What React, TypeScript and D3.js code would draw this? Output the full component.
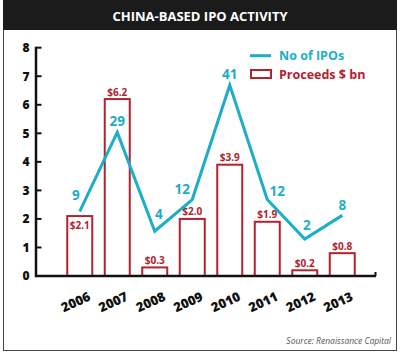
import React, { useEffect, useRef } from 'react';
import { select, scaleBand, scaleLinear, line } from 'd3';

const years = ['2006', '2007', '2008', '2009', '2010', '2011', '2012', '2013'];
const proceeds = [2.1, 6.2, 0.3, 2.0, 3.9, 1.9, 0.2, 0.8];
const proceedsLabels = ['$2.1', '$6.2', '$0.3', '$2.0', '$3.9', '$1.9', '$0.2', '$0.8'];
const ipoCounts = [9, 29, 4, 12, 41, 12, 2, 8];
const yTicks = [0, 1, 2, 3, 4, 5, 6, 7, 8];

const CYAN = '#1cadc9';
const RED = '#b3222f';
const FONT = '"Open Sans", "DejaVu Sans", sans-serif';

const App = () => {
    const svgRef = useRef<SVGSVGElement>(null);
    const width = 400;
    const height = 353;

    useEffect(() => {
        document.body.style.margin = '0';
        const svg = select(svgRef.current)
            .attr('width', width)
            .attr('height', height);

        svg.selectAll('*').remove();

        // frame + title band
        svg.append('rect')
            .attr('x', 3.5).attr('y', 0.5)
            .attr('width', 393).attr('height', 350)
            .attr('fill', '#fff').attr('stroke', '#444').attr('stroke-width', 1);
        svg.append('rect')
            .attr('x', 3).attr('y', 0)
            .attr('width', 394).attr('height', 30)
            .attr('fill', '#1b1b1b');
        svg.append('text')
            .attr('x', 200).attr('y', 16)
            .attr('dy', '0.35em')
            .attr('text-anchor', 'middle')
            .attr('fill', '#fff')
            .style('font-family', FONT)
            .style('font-weight', 700)
            .style('font-size', '13px')
            .text('CHINA-BASED IPO ACTIVITY');

        const xScale = scaleBand()
            .domain(years)
            .range([61, 361])
            .paddingInner(1 / 3)
            .paddingOuter(1 / 6);

        const yScale = scaleLinear().domain([0, 8]).range([276, 47.7]);
        const ipoScale = scaleLinear().domain([0, 41]).range([247, 85]);
        const cx = (y: string) => (xScale(y) as number) + xScale.bandwidth() / 2;

        const g = svg.append('g');

        // bars
        g.selectAll('rect.bar')
            .data(proceeds)
            .enter().append('rect')
                .attr('class', 'bar')
                .attr('x', (d, i) => xScale(years[i]) as number)
                .attr('y', d => yScale(d))
                .attr('width', xScale.bandwidth())
                .attr('height', d => yScale(0) - yScale(d))
                .attr('fill', '#fff')
                .attr('stroke', RED)
                .attr('stroke-width', 2);

        // bar labels (2006 sits inside its bar, under the line)
        const insideLabels = ['2006'];
        g.selectAll('text.bar-label')
            .data(proceeds)
            .enter().append('text')
                .attr('class', 'bar-label')
                .attr('x', (d, i) => cx(years[i]))
                .attr('y', (d, i) => insideLabels.includes(years[i]) ? yScale(d) + 9.5 : yScale(d) - 7)
                .attr('dy', '0.35em')
                .attr('text-anchor', 'middle')
                .attr('fill', RED)
                .style('font-family', FONT)
                .style('font-weight', 700)
                .style('font-size', '10px')
                .text((d, i) => proceedsLabels[i]);

        // axes
        g.append('line')
            .attr('x1', 36).attr('x2', 36)
            .attr('y1', yScale(8) - 1).attr('y2', yScale(0) + 1.2)
            .attr('stroke', '#111').attr('stroke-width', 2.5);
        g.append('line')
            .attr('x1', 36).attr('x2', 376)
            .attr('y1', yScale(0)).attr('y2', yScale(0))
            .attr('stroke', '#111').attr('stroke-width', 2.5);
        g.append('line')
            .attr('x1', 375.5).attr('x2', 375.5)
            .attr('y1', yScale(0) - 4).attr('y2', yScale(0))
            .attr('stroke', '#111').attr('stroke-width', 2);

        const ticks = g.selectAll('g.ytick')
            .data(yTicks)
            .enter().append('g')
                .attr('class', 'ytick')
                .attr('transform', d => `translate(0, ${yScale(d)})`);
        ticks.append('line')
            .attr('x1', 36).attr('x2', 41.5)
            .attr('stroke', '#111').attr('stroke-width', 2);
        ticks.append('text')
            .attr('x', 29.5)
            .attr('dy', '0.36em')
            .attr('text-anchor', 'end')
            .attr('fill', '#111')
            .style('font-family', FONT)
            .style('font-weight', 800)
            .style('font-size', '12px')
            .text(d => d);

        g.selectAll('text.xlabel')
            .data(years)
            .enter().append('text')
                .attr('class', 'xlabel')
                .attr('transform', d => `translate(${cx(d) - 4}, 302) rotate(-25)`)
                .attr('dy', '0.35em')
                .attr('text-anchor', 'middle')
                .attr('fill', '#111')
                .style('font-family', FONT)
                .style('font-weight', 800)
                .style('font-size', '13px')
                .text(d => d);

        // IPO line
        const ipoLine = line<number>()
            .x((d, i) => cx(years[i]))
            .y(d => ipoScale(d));
        g.append('path')
            .attr('d', ipoLine(ipoCounts))
            .attr('fill', 'none')
            .attr('stroke', CYAN)
            .attr('stroke-width', 3)
            .attr('stroke-linejoin', 'miter');

        const nudge: Record<string, [number, number]> = {
            '2006': [-4, -16], '2007': [0, -11], '2008': [4, -17], '2009': [-10, -10],
            '2010': [0, -11], '2011': [10, -8], '2012': [2, -14], '2013': [0, -10],
        };
        g.selectAll('text.ipo-label')
            .data(ipoCounts)
            .enter().append('text')
                .attr('class', 'ipo-label')
                .attr('x', (d, i) => cx(years[i]) + nudge[years[i]][0])
                .attr('y', (d, i) => ipoScale(d) + nudge[years[i]][1])
                .attr('dy', '0.35em')
                .attr('text-anchor', 'middle')
                .attr('fill', CYAN)
                .style('font-family', FONT)
                .style('font-weight', 700)
                .style('font-size', '13.5px')
                .text(d => d);

        // legend
        const legend = g.append('g').attr('transform', 'translate(250, 0)');
        legend.append('line')
            .attr('x1', 0).attr('x2', 21)
            .attr('y1', 55.7).attr('y2', 55.7)
            .attr('stroke', CYAN).attr('stroke-width', 3);
        legend.append('text')
            .attr('x', 29).attr('y', 55.7).attr('dy', '0.35em')
            .attr('fill', CYAN)
            .style('font-family', FONT).style('font-weight', 700).style('font-size', '12.5px')
            .text('No of IPOs');
        legend.append('rect')
            .attr('x', 1).attr('y', 70)
            .attr('width', 20).attr('height', 8)
            .attr('fill', '#fff').attr('stroke', RED).attr('stroke-width', 2);
        legend.append('text')
            .attr('x', 29).attr('y', 74.3).attr('dy', '0.35em')
            .attr('fill', RED)
            .style('font-family', FONT).style('font-weight', 700).style('font-size', '12.5px')
            .text('Proceeds $ bn');

        svg.append('text')
            .attr('x', 391).attr('y', 340.7).attr('dy', '0.35em')
            .attr('text-anchor', 'end')
            .attr('fill', '#555')
            .style('font-family', FONT)
            .style('font-style', 'italic')
            .style('font-size', '8.5px')
            .text('Source: Renaissance Capital');
    }, []);

    return (
        <div style={{ position: 'absolute', left: 0, top: 0 }}>
            <svg ref={svgRef} style={{ display: 'block' }}></svg>
        </div>
    );
};

export default App;
